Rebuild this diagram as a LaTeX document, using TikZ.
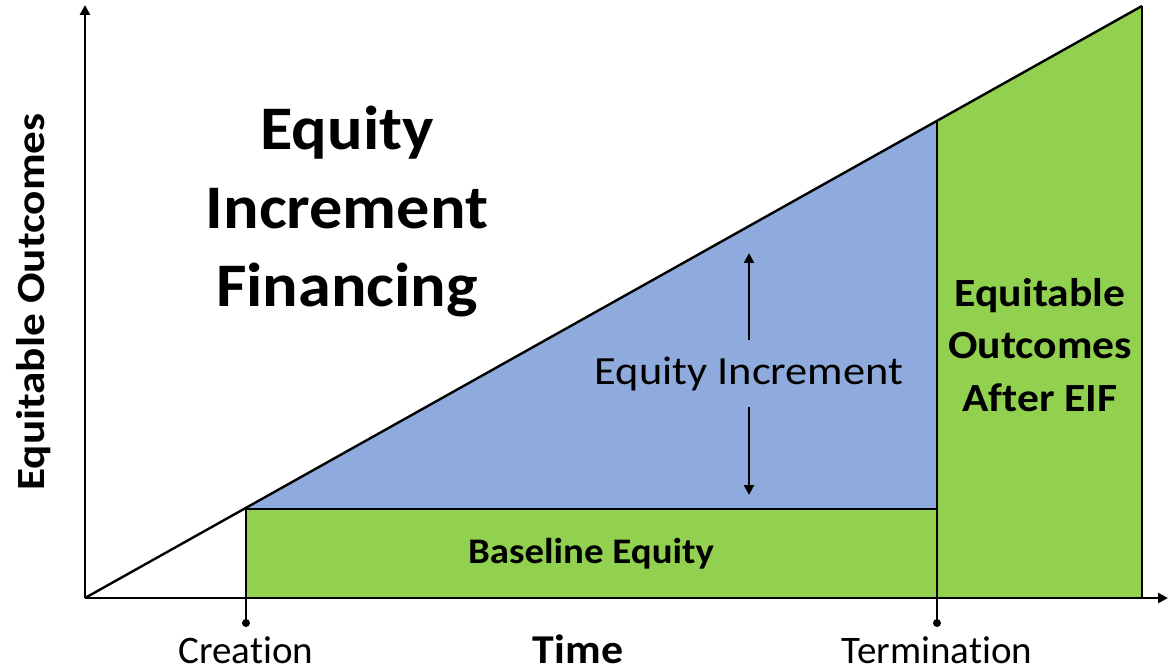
\documentclass[tikz,border=0pt]{standalone}
\usepackage{fontspec}
\setmainfont{Carlito}[Ligatures=NoCommon]
\usetikzlibrary{arrows.meta}
\definecolor{eqgreen}{HTML}{92D050}
\definecolor{eqblue}{HTML}{8FAADC}
\tikzset{
  axisline/.style={line width=2.6pt,-{Triangle[length=10pt,width=10pt]}},
  edge/.style={line width=2pt},
  incarrow/.style={line width=2.3pt,-{Triangle[length=10pt,width=10pt]}},
  tickdot/.style={circle,fill=black,inner sep=0pt,minimum size=8pt},
  lbl/.style={inner sep=0pt,align=center,text=black}
}
\begin{document}
\begin{tikzpicture}[x=1pt,y=-1pt]
\useasboundingbox (0,0) rectangle (1171,671);
% key points
\coordinate (O) at (85,598);
\coordinate (Ytop) at (85,5);
\coordinate (Xend) at (1168,598);
\coordinate (T) at (1142,6);
\coordinate (Cb) at (246,598);
\coordinate (Ct) at (246,509);
\coordinate (Tb) at (937,598);
\coordinate (Tm) at (937,509);
\coordinate (Tt) at (937,121);
\coordinate (Rb) at (1142,598);
% fills
\fill[eqgreen] (Cb) rectangle (Tm);
\fill[eqblue] (Ct) -- (Tm) -- (Tt) -- cycle;
\fill[eqgreen] (Tb) -- (Tt) -- (T) -- (Rb) -- cycle;
% outlines
\draw[edge] (Cb) -- (Ct) -- (Tm);
\draw[edge] (Tb) -- (Tt);
\draw[edge] (T) -- (Rb);
\draw[edge,line width=2.4pt] (O) -- (T);
% axes
\draw[axisline] (O) -- (Ytop);
\draw[axisline] (O) -- (Xend);
% ticks
\node[tickdot] (cdot) at (246,623) {};
\node[tickdot] (tdot) at (937,623) {};
\draw[edge] (Cb) -- (cdot.center);
\draw[edge] (Tb) -- (tdot.center);
% increment arrows
\coordinate (ua1) at (749,340);
\coordinate (ua2) at (749,253);
\coordinate (da1) at (749,407);
\coordinate (da2) at (749,495);
\draw[incarrow] (ua1) -- (ua2);
\draw[incarrow] (da1) -- (da2);
% labels
\node[lbl,font=\fontsize{62}{78.5}\selectfont\bfseries,xscale=1.07] (title) at (347,212) {Equity\\Increment\\Financing};
\node[lbl,font=\fontsize{40}{48}\selectfont,xscale=1.11] (inc) at (749,374) {Equity Increment};
\node[lbl,font=\fontsize{40}{52.5}\selectfont\bfseries,xscale=1.09] (after) at (1040,345) {Equitable\\Outcomes\\After EIF};
\node[lbl,font=\fontsize{36}{42}\selectfont\bfseries,xscale=1.08] (base) at (591,554) {Baseline Equity};
\node[lbl,font=\fontsize{41}{48}\selectfont\bfseries,xscale=1.07,anchor=base] (time) at (578,663) {Time};
\node[lbl,font=\fontsize{39}{46}\selectfont,anchor=base] (cre) at (246,663) {Creation};
\node[lbl,font=\fontsize{39}{46}\selectfont,anchor=base] (ter) at (937,663) {Termination};
\node[lbl,font=\fontsize{40}{46}\selectfont\bfseries,rotate=90,xscale=1.13] (ylab) at (34,302) {Equitable Outcomes};
\end{tikzpicture}
\end{document}
